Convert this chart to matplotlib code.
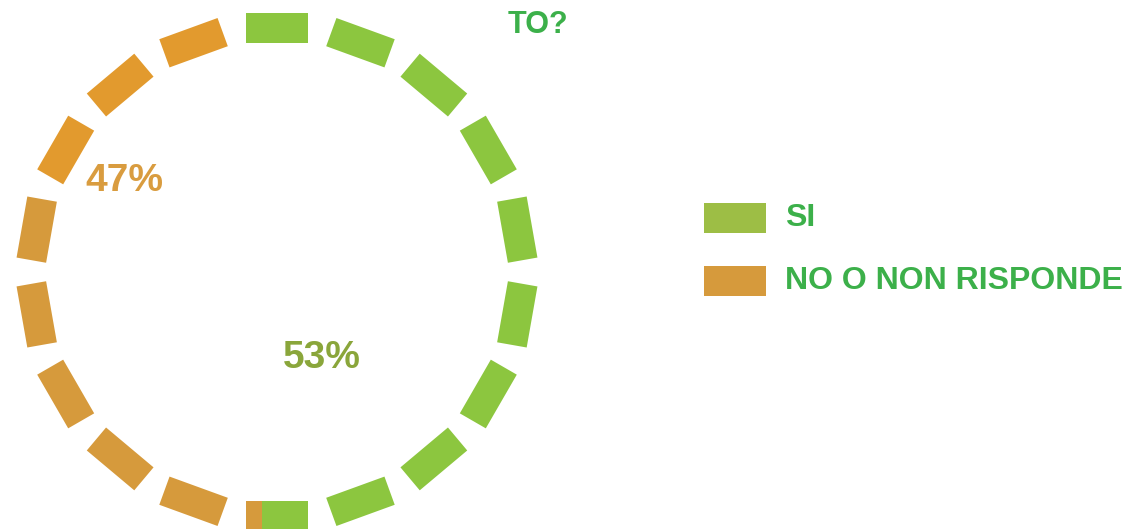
import numpy as np
import matplotlib
matplotlib.use('Agg')
import matplotlib.pyplot as plt
from matplotlib.patches import Polygon, Rectangle

# Data
labels = ['SI', 'NO O NON RISPONDE']
values = [53, 47]
pct_labels = ['53%', '47%']
legend_colors = ['#9dbe45', '#d69a3c']
ring_colors = ['#8cc63f', '#e29a2e']
pct_colors = ['#8aa63b', '#d99c3f']
title = 'TO?'

plt.rcParams['font.family'] = ['Liberation Sans', 'DejaVu Sans']
plt.rcParams['font.weight'] = 'bold'

W, H = 1127, 529
fig = plt.figure(figsize=(W / 100, H / 100), dpi=100)
ax = fig.add_axes([0, 0, 1, 1])
ax.set_xlim(0, W)
ax.set_ylim(0, H)
ax.axis('off')

# ring geometry (pixels)
cx, cy = 277, H - 272
r_mid, ring_w, dash_len = 244, 30, 62
n_dash = 18
step = 360 / n_dash
half = np.degrees(dash_len / r_mid) / 2  # half of a dash, in degrees

# category boundaries, clockwise from the top, starting at the first dash edge
start = -half
bounds = start + np.concatenate([[0], np.cumsum(values) / sum(values) * 360])


def dash_piece(center, lo, hi):
    # straight rectangular dash tangent to the circle at `center` (deg, clockwise from top)
    c = np.radians(center)
    radial = np.array([np.sin(c), np.cos(c)])
    tangent = np.array([np.cos(c), -np.sin(c)])
    mid = np.array([cx, cy]) + r_mid * radial
    t0 = r_mid * np.radians(lo - center)
    t1 = r_mid * np.radians(hi - center)
    w = ring_w / 2
    return [mid + t0 * tangent - w * radial, mid + t1 * tangent - w * radial,
            mid + t1 * tangent + w * radial, mid + t0 * tangent + w * radial]


for k in range(n_dash):
    c = k * step
    a0, a1 = c - half, c + half
    for i in range(len(values)):
        lo, hi = max(a0, bounds[i]), min(a1, bounds[i + 1])
        if hi <= lo:
            continue
        col = ring_colors[i]
        if i == 1 and c < 290:
            col = legend_colors[1]
        ax.add_patch(Polygon(dash_piece(c, lo, hi), closed=True,
                             facecolor=col, edgecolor='none'))

# percentage labels
ax.text(322, H - 358, pct_labels[0], color=pct_colors[0], fontsize=28,
        fontweight='bold', ha='center', va='center')
ax.text(124, H - 181, pct_labels[1], color=pct_colors[1], fontsize=28,
        fontweight='bold', ha='center', va='center')

# title fragment
ax.text(538, H - 25, title, color='#3cb04a', fontsize=22, fontweight='bold',
        ha='center', va='center')

# legend
for i, lab in enumerate(labels):
    y = H - (218 + i * 63)
    ax.add_patch(Rectangle((704, y - 15), 62, 30, facecolor=legend_colors[i],
                           edgecolor='none'))
    ax.text(785, y, lab, color='#3cb04a', fontsize=23, fontweight='bold',
            ha='left', va='center')

fig.savefig('out.png', dpi=100, facecolor='white')
